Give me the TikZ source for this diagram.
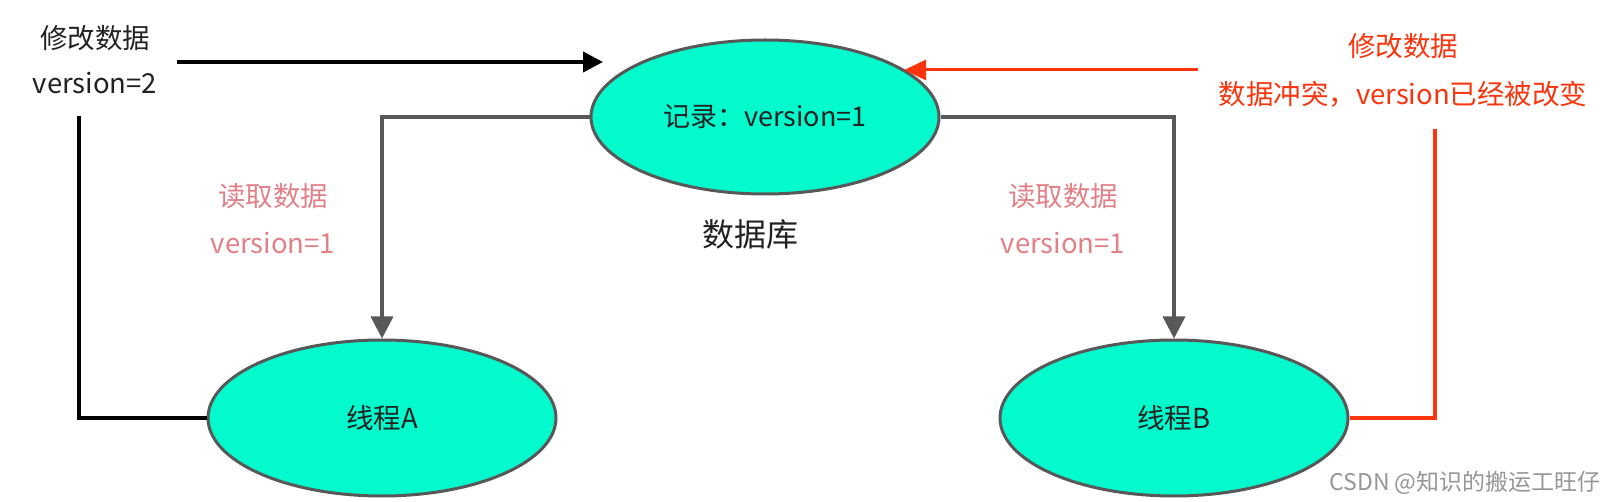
\documentclass[tikz,border=0pt]{standalone}
\usepackage{fontspec}
\setmainfont{Noto Sans CJK SC}
\usepackage{tikz}
\usetikzlibrary{arrows.meta, positioning, shapes.geometric}
\definecolor{mygray}{RGB}{88,88,88}
\definecolor{mytext}{RGB}{34,34,34}
\definecolor{myaqua}{RGB}{3,250,204}
\definecolor{myred}{RGB}{250,52,12}
\definecolor{mypink}{RGB}{226,128,136}
\definecolor{mymark}{RGB}{150,150,150}
\tikzset{
  record/.style={ellipse, draw=mygray, fill=myaqua, line width=3pt,
    minimum width=348pt, minimum height=154pt, inner sep=0pt,
    text=mytext, font=\fontsize{27}{31}\selectfont},
  thread/.style={ellipse, draw=mygray, fill=myaqua, line width=3pt,
    minimum width=348pt, minimum height=156pt, inner sep=0pt,
    text=mytext, font=\fontsize{27.5}{32}\selectfont},
  label/.style={text=mytext, font=\fontsize{27.5}{32}\selectfont, inner sep=0pt},
  redlabel/.style={text=myred, font=\fontsize{27.5}{32}\selectfont, inner sep=0pt},
  pinklabel/.style={text=mypink, font=\fontsize{27.5}{32}\selectfont, inner sep=0pt},
  grayarrow/.style={-{Triangle[length=22pt,width=22pt]}, line width=3.5pt, color=mygray},
  blackarrow/.style={-{Triangle[length=20pt,width=20pt]}, line width=4pt, color=black},
  redarrow/.style={-{Triangle[length=22pt,width=20pt]}, line width=3pt, color=myred},
  blackline/.style={line width=3.5pt, color=black},
  redline/.style={line width=3.5pt, color=myred}
}
\begin{document}
\begin{tikzpicture}[x=1pt, y=-1pt]
  \useasboundingbox (0,0) rectangle (1615,502);

  % database record and threads
  \node[record] (db) at (765,117) {记录：version=1};
  \node[label, font=\fontsize{32}{36}\selectfont] (dbname) at (750,234) {数据库};
  \node[thread] (ta) at (382,418) {线程A};
  \node[thread] (tb) at (1174,418) {线程B};

  % texts
  \node[label] (modA) at (95,38) {修改数据};
  \node[label] (verA) at (95,83) {version=2};
  \node[pinklabel] (readA) at (273,196) {读取数据};
  \node[pinklabel] (verRA) at (273,243) {version=1};
  \node[pinklabel] (readB) at (1063,196) {读取数据};
  \node[pinklabel] (verRB) at (1063,243) {version=1};
  \node[redlabel] (modB) at (1403,46) {修改数据};
  \node[redlabel] (conflict) at (1403,94) {数据冲突，version已经被改变};
  \node[text=mymark, font=\fontsize{23}{27}\selectfont, inner sep=0pt] (mark) at (1465,483) {CSDN @知识的搬运工旺仔};

  % free ends
  \coordinate (astart) at (177,62);
  \coordinate (aend) at (603,62);
  \coordinate (atop) at (79,116);
  \coordinate (bstart) at (1198,70);
  \coordinate (btop) at (1435,129);

  % connections
  \draw[grayarrow] (db.west) -| (ta.north);
  \draw[grayarrow] (db.east) -| (tb.north);
  \draw[blackline] (atop) |- (ta.west);
  \draw[blackarrow] (astart) -- (aend);
  \draw[redline] (tb.east) -| (btop);
  \draw[redarrow] (bstart) -- (db.19 |- bstart);
\end{tikzpicture}
\end{document}
